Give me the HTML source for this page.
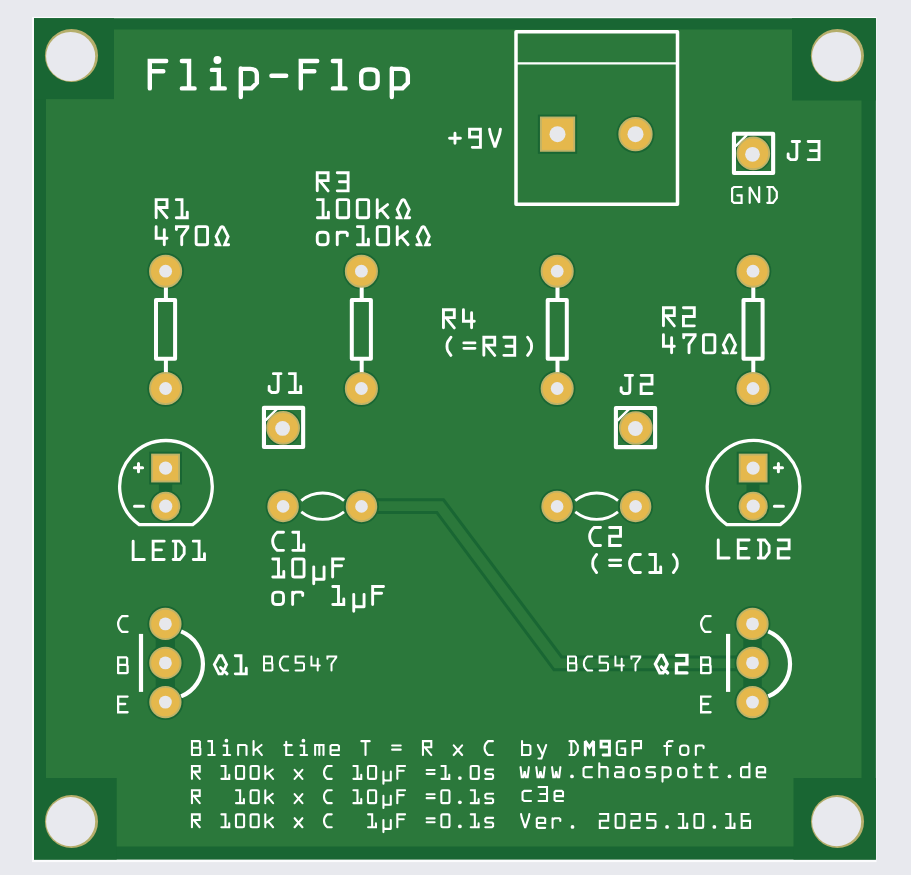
<!DOCTYPE html>
<html><head><meta charset="utf-8"><title>Flip-Flop PCB</title>
<style>html,body{margin:0;padding:0;background:#e8e9ee;font-family:"Liberation Sans",sans-serif;}svg{display:block}</style>
</head><body>
<svg width="911" height="875" viewBox="0 0 911 875">
<rect x="0" y="0" width="911" height="875" fill="#e8e9ee"/>
<rect x="32" y="16.9" width="844.5" height="845.2" fill="#fbfbfd"/>
<rect x="34" y="18.2" width="841.9" height="841.4" fill="#196633"/>
<rect x="46" y="29.5" width="815.5" height="817" fill="#2b783b"/>
<rect x="34" y="18.2" width="80" height="80.9" fill="#196633"/>
<rect x="792" y="18.2" width="83.9" height="82.3" fill="#196633"/>
<rect x="34" y="778" width="82.7" height="81.6" fill="#196633"/>
<rect x="793.5" y="778" width="82.4" height="81.6" fill="#196633"/>
<circle cx="71.50" cy="55.50" r="26.55" fill="#b5ae6b"/>
<circle cx="70.65" cy="56.50" r="24.55" fill="#e8e9ee"/>
<circle cx="837.40" cy="55.50" r="26.55" fill="#b5ae6b"/>
<circle cx="836.55" cy="56.50" r="24.55" fill="#e8e9ee"/>
<circle cx="71.50" cy="821.50" r="26.55" fill="#b5ae6b"/>
<circle cx="70.65" cy="821.65" r="24.55" fill="#e8e9ee"/>
<circle cx="837.50" cy="821.50" r="26.55" fill="#b5ae6b"/>
<circle cx="836.65" cy="821.65" r="24.55" fill="#e8e9ee"/>
<path d="M361,499.8 L443.5,499.8 L561.7,657 L752,657" fill="none" stroke="#196633" stroke-width="3"/>
<path d="M361,512.4 L436.8,512.4 L554,669.8 L752,669.8" fill="none" stroke="#196633" stroke-width="3"/>
<circle cx="165.6" cy="271.2" r="18.3" fill="#196633"/>
<circle cx="165.6" cy="388.5" r="18.3" fill="#196633"/>
<circle cx="361.4" cy="271.2" r="18.3" fill="#196633"/>
<circle cx="361.4" cy="388.5" r="18.3" fill="#196633"/>
<circle cx="557.2" cy="271.2" r="18.3" fill="#196633"/>
<circle cx="557.2" cy="388.5" r="18.3" fill="#196633"/>
<circle cx="753.0" cy="271.2" r="18.3" fill="#196633"/>
<circle cx="753.0" cy="388.5" r="18.3" fill="#196633"/>
<rect x="537.9" y="114.6" width="39.2" height="39.2" fill="#196633"/>
<circle cx="635.5" cy="134.2" r="19.0" fill="#196633"/>
<circle cx="283.1" cy="427.9" r="18.3" fill="#196633"/>
<circle cx="635.8" cy="428.0" r="18.3" fill="#196633"/>
<circle cx="753.3" cy="153.4" r="18.3" fill="#196633"/>
<rect x="149.2" y="451.7" width="32.8" height="32.8" fill="#196633"/>
<circle cx="165.7" cy="506.2" r="16.3" fill="#196633"/>
<rect x="736.7" y="451.7" width="32.8" height="32.8" fill="#196633"/>
<circle cx="753.2" cy="506.2" r="16.3" fill="#196633"/>
<circle cx="283.1" cy="506.4" r="17.5" fill="#196633"/>
<circle cx="361.5" cy="506.4" r="17.5" fill="#196633"/>
<circle cx="557.1" cy="506.4" r="17.5" fill="#196633"/>
<circle cx="635.6" cy="506.4" r="17.5" fill="#196633"/>
<circle cx="165.4" cy="623.9" r="18.0" fill="#196633"/>
<circle cx="165.4" cy="662.9" r="18.0" fill="#196633"/>
<circle cx="165.4" cy="702.1" r="18.0" fill="#196633"/>
<circle cx="752.5" cy="623.9" r="18.0" fill="#196633"/>
<circle cx="752.5" cy="662.9" r="18.0" fill="#196633"/>
<circle cx="752.5" cy="702.1" r="18.0" fill="#196633"/>
<rect x="158.9" y="480" width="13.3" height="20" fill="#196633"/>
<rect x="746.5" y="480" width="13" height="20" fill="#196633"/>
<rect x="155.7" y="624" width="19.3" height="78" fill="#196633"/>
<rect x="743.3" y="624" width="18.5" height="78" fill="#196633"/>
<path d="M165.9,285 L165.9,299 M165.9,360 L165.9,375" stroke="#fff" stroke-width="4" fill="none"/>
<rect x="156.0" y="299.9" width="19.1" height="58.9" fill="none" stroke="#fff" stroke-width="4" stroke-linejoin="round"/>
<path d="M361.7,285 L361.7,299 M361.7,360 L361.7,375" stroke="#fff" stroke-width="4" fill="none"/>
<rect x="351.8" y="299.9" width="19.1" height="58.9" fill="none" stroke="#fff" stroke-width="4" stroke-linejoin="round"/>
<path d="M557.5,285 L557.5,299 M557.5,360 L557.5,375" stroke="#fff" stroke-width="4" fill="none"/>
<rect x="547.7" y="299.9" width="19.1" height="58.9" fill="none" stroke="#fff" stroke-width="4" stroke-linejoin="round"/>
<path d="M753.3,285 L753.3,299 M753.3,360 L753.3,375" stroke="#fff" stroke-width="4" fill="none"/>
<rect x="743.5" y="299.9" width="19.1" height="58.9" fill="none" stroke="#fff" stroke-width="4" stroke-linejoin="round"/>
<rect x="516" y="31.8" width="161.5" height="172.5" fill="none" stroke="#fff" stroke-width="3.5" stroke-linejoin="round"/>
<path d="M516,63.4 L677.5,63.4" stroke="#fff" stroke-width="2.2"/>
<path d="M265.6,420.4 L277.1,408.9" stroke="#fff" stroke-width="2.4"/>
<rect x="263.95" y="407.85" width="39.2" height="39.2" fill="none" stroke="#fff" stroke-width="4.1" stroke-linejoin="round"/>
<path d="M617.5,420.6 L629.0,409.1" stroke="#fff" stroke-width="2.4"/>
<rect x="615.90" y="407.95" width="39.2" height="39.2" fill="none" stroke="#fff" stroke-width="4.1" stroke-linejoin="round"/>
<path d="M735.5,146.3 L747.0,134.8" stroke="#fff" stroke-width="2.4"/>
<rect x="733.95" y="133.75" width="39.2" height="39.2" fill="none" stroke="#fff" stroke-width="4.1" stroke-linejoin="round"/>
<path d="M139.2,524.6 A46.3,46.3 0 1 1 192.7,524.6 Z" fill="none" stroke="#fff" stroke-width="3.3" stroke-linejoin="round"/>
<path d="M134.4,467.7 L142.6,467.7 M138.5,463.4 L138.5,471.8 M134.5,506.3 L143.5,506.3" stroke="#fff" stroke-width="3" fill="none" stroke-linecap="round"/>
<path d="M726.8,524.6 A46.3,46.3 0 1 1 780.2,524.6 Z" fill="none" stroke="#fff" stroke-width="3.3" stroke-linejoin="round"/>
<path d="M774.3,467.7 L782.5,467.7 M778.4,463.4 L778.4,471.8 M774.4,506.3 L783.4,506.3" stroke="#fff" stroke-width="3" fill="none" stroke-linecap="round"/>
<path d="M301.3,500.6 A33.8,33.8 0 0 1 344.0,500.6 M301.3,511.8 A33.8,33.8 0 0 0 344.0,511.8" fill="none" stroke="#fff" stroke-width="2.8"/>
<path d="M575.3,500.6 A33.8,33.8 0 0 1 618.0,500.6 M575.3,511.8 A33.8,33.8 0 0 0 618.0,511.8" fill="none" stroke="#fff" stroke-width="2.8"/>
<path d="M141.0,633.9 L141.0,691.9" stroke="#fff" stroke-width="4.2"/>
<path d="M181.1,631.4 A35.1,35.1 0 0 1 181.1,696.4" fill="none" stroke="#fff" stroke-width="4.2"/>
<path d="M728.1,633.9 L728.1,691.9" stroke="#fff" stroke-width="4.2"/>
<path d="M768.2,631.4 A35.1,35.1 0 0 1 768.2,696.4" fill="none" stroke="#fff" stroke-width="4.2"/>
<path d="M 149.80,88.40 L 149.80,61.00 L 166.24,61.00 M 149.80,71.28 L 163.36,71.28 M 181.85,61.00 L 189.04,61.00 L 189.04,88.40 M 181.85,88.40 L 194.59,88.40 M 211.84,69.91 L 218.83,69.91 L 218.83,88.40 M 211.84,88.40 L 224.79,88.40 M 240.81,68.53 L 240.81,96.96 M 240.81,68.88 L 250.26,68.88 Q 256.84,69.22 256.84,74.70 L 256.84,82.92 L 251.50,88.40 L 240.81,88.40 M 271.42,75.73 L 286.22,75.73 M 300.80,88.40 L 300.80,61.00 L 317.24,61.00 M 300.80,71.28 L 314.36,71.28 M 332.85,61.00 L 340.04,61.00 L 340.04,88.40 M 332.85,88.40 L 345.59,88.40 M 367.78,69.56 L 371.06,69.56 Q 377.64,69.56 377.64,75.39 L 377.64,82.58 Q 377.64,88.40 371.06,88.40 L 367.78,88.40 Q 361.20,88.40 361.20,82.58 L 361.20,75.39 Q 361.20,69.56 367.78,69.56 M 391.81,68.53 L 391.81,96.96 M 391.81,68.88 L 401.26,68.88 Q 407.84,69.22 407.84,74.70 L 407.84,82.92 L 402.50,88.40 L 391.81,88.40" fill="none" stroke="#fff" stroke-width="4.40" stroke-linecap="round" stroke-linejoin="miter" stroke-miterlimit="2"/><circle cx="217.39" cy="59.97" r="3.96" fill="#fff"/>
<path d="M 156.15,217.75 L 156.15,199.65 L 167.01,199.65 L 167.01,207.57 L 156.15,207.57 M 158.59,207.57 L 167.01,217.75 M 176.29,199.65 L 181.99,199.65 L 181.99,217.75 M 176.29,217.75 L 187.28,217.75 L 187.28,212.09" fill="none" stroke="#fff" stroke-width="2.90" stroke-linecap="round" stroke-linejoin="miter" stroke-miterlimit="2"/>
<path d="M 156.15,226.65 L 156.15,238.19 L 167.01,238.19 M 164.29,229.59 L 164.29,244.75 M 176.42,229.59 L 176.42,226.65 L 187.82,226.65 L 187.82,227.78 L 181.72,236.38 L 181.72,244.75 M 198.05,226.65 L 205.65,226.65 Q 207.55,226.65 207.55,228.23 L 207.55,243.17 Q 207.55,244.75 205.65,244.75 L 198.05,244.75 Q 196.15,244.75 196.15,243.17 L 196.15,228.23 Q 196.15,226.65 198.05,226.65 M 215.61,244.75 L 219.68,244.75 L 216.15,236.60 L 220.77,227.33 Q 222.12,226.20 223.48,227.33 L 228.10,236.60 L 224.57,244.75 L 228.64,244.75" fill="none" stroke="#fff" stroke-width="2.90" stroke-linecap="round" stroke-linejoin="miter" stroke-miterlimit="2"/>
<path d="M 317.25,190.85 L 317.25,172.75 L 328.11,172.75 L 328.11,180.67 L 317.25,180.67 M 319.69,180.67 L 328.11,190.85 M 337.25,172.75 L 348.11,172.75 L 348.11,190.85 L 337.25,190.85 M 339.42,181.80 L 348.11,181.80" fill="none" stroke="#fff" stroke-width="2.90" stroke-linecap="round" stroke-linejoin="miter" stroke-miterlimit="2"/>
<path d="M 317.39,199.65 L 323.09,199.65 L 323.09,217.75 M 317.39,217.75 L 328.38,217.75 L 328.38,212.09 M 339.15,199.65 L 346.75,199.65 Q 348.65,199.65 348.65,201.23 L 348.65,216.17 Q 348.65,217.75 346.75,217.75 L 339.15,217.75 Q 337.25,217.75 337.25,216.17 L 337.25,201.23 Q 337.25,199.65 339.15,199.65 M 359.15,199.65 L 366.75,199.65 Q 368.65,199.65 368.65,201.23 L 368.65,216.17 Q 368.65,217.75 366.75,217.75 L 359.15,217.75 Q 357.25,217.75 357.25,216.17 L 357.25,201.23 Q 357.25,199.65 359.15,199.65 M 377.25,199.65 L 377.25,217.75 M 377.25,212.55 L 387.57,204.63 M 381.32,209.60 L 388.11,217.75 M 396.71,217.75 L 400.78,217.75 L 397.25,209.60 L 401.87,200.33 Q 403.22,199.20 404.58,200.33 L 409.20,209.60 L 405.67,217.75 L 409.74,217.75" fill="none" stroke="#fff" stroke-width="2.90" stroke-linecap="round" stroke-linejoin="miter" stroke-miterlimit="2"/>
<path d="M 321.59,232.31 L 323.77,232.31 Q 328.11,232.31 328.11,236.15 L 328.11,240.90 Q 328.11,244.75 323.77,244.75 L 321.59,244.75 Q 317.25,244.75 317.25,240.90 L 317.25,236.15 Q 317.25,232.31 321.59,232.31 M 337.25,232.31 L 337.25,244.75 M 337.25,234.57 L 339.96,232.31 L 345.94,232.31 L 347.30,233.44 L 347.30,235.70 M 357.39,226.65 L 363.09,226.65 L 363.09,244.75 M 357.39,244.75 L 368.38,244.75 L 368.38,239.09 M 379.15,226.65 L 386.75,226.65 Q 388.65,226.65 388.65,228.23 L 388.65,243.17 Q 388.65,244.75 386.75,244.75 L 379.15,244.75 Q 377.25,244.75 377.25,243.17 L 377.25,228.23 Q 377.25,226.65 379.15,226.65 M 397.25,226.65 L 397.25,244.75 M 397.25,239.55 L 407.57,231.63 M 401.32,236.60 L 408.11,244.75 M 416.71,244.75 L 420.78,244.75 L 417.25,236.60 L 421.87,227.33 Q 423.22,226.20 424.58,227.33 L 429.20,236.60 L 425.67,244.75 L 429.74,244.75" fill="none" stroke="#fff" stroke-width="2.90" stroke-linecap="round" stroke-linejoin="miter" stroke-miterlimit="2"/>
<path d="M 443.45,327.85 L 443.45,309.75 L 454.31,309.75 L 454.31,317.67 L 443.45,317.67 M 445.89,317.67 L 454.31,327.85 M 463.45,309.75 L 463.45,321.29 L 474.31,321.29 M 471.59,312.69 L 471.59,327.85" fill="none" stroke="#fff" stroke-width="2.90" stroke-linecap="round" stroke-linejoin="miter" stroke-miterlimit="2"/>
<path d="M 450.91,337.25 L 447.92,341.55 Q 446.97,343.13 446.97,346.30 Q 446.97,349.47 447.92,351.05 L 450.91,355.35 M 463.85,342.91 L 474.98,342.91 M 463.85,348.34 L 474.98,348.34 M 483.85,355.35 L 483.85,337.25 L 494.71,337.25 L 494.71,345.17 L 483.85,345.17 M 486.29,345.17 L 494.71,355.35 M 503.85,337.25 L 514.71,337.25 L 514.71,355.35 L 503.85,355.35 M 506.02,346.30 L 514.71,346.30 M 527.65,337.25 L 530.64,341.55 Q 531.59,343.13 531.59,346.30 Q 531.59,349.47 530.64,351.05 L 527.65,355.35" fill="none" stroke="#fff" stroke-width="2.90" stroke-linecap="round" stroke-linejoin="miter" stroke-miterlimit="2"/>
<path d="M 663.45,325.85 L 663.45,307.75 L 674.31,307.75 L 674.31,315.67 L 663.45,315.67 M 665.89,315.67 L 674.31,325.85 M 683.45,307.75 L 694.31,307.75 L 694.31,316.57 L 683.45,316.57 L 683.45,325.85 L 694.31,325.85" fill="none" stroke="#fff" stroke-width="2.90" stroke-linecap="round" stroke-linejoin="miter" stroke-miterlimit="2"/>
<path d="M 663.45,334.75 L 663.45,346.29 L 674.31,346.29 M 671.60,337.69 L 671.60,352.85 M 683.72,337.69 L 683.72,334.75 L 695.12,334.75 L 695.12,335.88 L 689.02,344.48 L 689.02,352.85 M 705.35,334.75 L 712.95,334.75 Q 714.85,334.75 714.85,336.33 L 714.85,351.27 Q 714.85,352.85 712.95,352.85 L 705.35,352.85 Q 703.45,352.85 703.45,351.27 L 703.45,336.33 Q 703.45,334.75 705.35,334.75 M 722.91,352.85 L 726.98,352.85 L 723.45,344.70 L 728.07,335.43 Q 729.42,334.30 730.78,335.43 L 735.40,344.70 L 731.87,352.85 L 735.94,352.85" fill="none" stroke="#fff" stroke-width="2.90" stroke-linecap="round" stroke-linejoin="miter" stroke-miterlimit="2"/>
<path d="M 449.55,138.30 L 460.41,138.30 M 454.98,133.32 L 454.98,143.28 M 480.41,136.94 L 469.55,136.94 L 469.55,129.25 L 480.41,129.25 L 480.41,147.35 L 472.26,147.35 M 489.55,129.25 L 490.36,133.78 L 494.98,147.35 L 499.60,133.78 L 500.41,129.25" fill="none" stroke="#fff" stroke-width="2.90" stroke-linecap="round" stroke-linejoin="miter" stroke-miterlimit="2"/>
<path d="M 792.22,141.55 L 799.55,141.55 M 796.84,141.55 L 796.84,156.93 Q 796.84,159.65 794.12,159.65 L 790.59,159.65 L 788.15,157.61 L 788.15,153.99 M 808.15,141.55 L 819.01,141.55 L 819.01,159.65 L 808.15,159.65 M 810.32,150.60 L 819.01,150.60" fill="none" stroke="#fff" stroke-width="2.90" stroke-linecap="round" stroke-linejoin="miter" stroke-miterlimit="2"/>
<path d="M 273.38,373.65 L 280.99,373.65 M 278.17,373.65 L 278.17,389.63 Q 278.17,392.45 275.35,392.45 L 271.69,392.45 L 269.15,390.33 L 269.15,386.57 M 289.29,373.65 L 295.21,373.65 L 295.21,392.45 M 289.29,392.45 L 300.71,392.45 L 300.71,386.57" fill="none" stroke="#fff" stroke-width="2.90" stroke-linecap="round" stroke-linejoin="miter" stroke-miterlimit="2"/>
<path d="M 625.22,375.35 L 632.55,375.35 M 629.84,375.35 L 629.84,390.73 Q 629.84,393.45 627.12,393.45 L 623.59,393.45 L 621.15,391.41 L 621.15,387.79 M 641.15,375.35 L 652.01,375.35 L 652.01,384.17 L 641.15,384.17 L 641.15,393.45 L 652.01,393.45" fill="none" stroke="#fff" stroke-width="2.90" stroke-linecap="round" stroke-linejoin="miter" stroke-miterlimit="2"/>
<path d="M 133.15,541.15 L 133.15,559.55 L 144.19,559.55 M 164.19,541.15 L 153.15,541.15 L 153.15,559.55 L 164.19,559.55 M 153.15,549.89 L 161.43,549.89 M 173.15,541.15 L 179.77,541.15 L 184.19,546.90 L 184.19,553.80 L 179.77,559.55 L 173.15,559.55 M 175.63,541.15 L 175.63,559.55 M 193.29,541.15 L 199.08,541.15 L 199.08,559.55 M 193.29,559.55 L 204.47,559.55 L 204.47,553.80" fill="none" stroke="#fff" stroke-width="2.90" stroke-linecap="round" stroke-linejoin="miter" stroke-miterlimit="2"/>
<path d="M 718.25,539.95 L 718.25,558.05 L 729.11,558.05 M 749.11,539.95 L 738.25,539.95 L 738.25,558.05 L 749.11,558.05 M 738.25,548.55 L 746.39,548.55 M 758.25,539.95 L 764.77,539.95 L 769.11,545.61 L 769.11,552.39 L 764.77,558.05 L 758.25,558.05 M 760.69,539.95 L 760.69,558.05 M 778.25,539.95 L 789.11,539.95 L 789.11,548.77 L 778.25,548.77 L 778.25,558.05 L 789.11,558.05" fill="none" stroke="#fff" stroke-width="2.90" stroke-linecap="round" stroke-linejoin="miter" stroke-miterlimit="2"/>
<path d="M 283.51,532.25 L 277.27,532.25 C 275.09,534.06 272.65,537.68 272.65,541.30 C 272.65,544.92 275.09,548.54 277.27,550.35 L 283.51,550.35 M 292.79,532.25 L 298.49,532.25 L 298.49,550.35 M 292.79,550.35 L 303.78,550.35 L 303.78,544.69" fill="none" stroke="#fff" stroke-width="2.90" stroke-linecap="round" stroke-linejoin="miter" stroke-miterlimit="2"/>
<path d="M 272.79,558.95 L 278.49,558.95 L 278.49,577.05 M 272.79,577.05 L 283.78,577.05 L 283.78,571.39 M 294.55,558.95 L 302.15,558.95 Q 304.05,558.95 304.05,560.53 L 304.05,575.47 Q 304.05,577.05 302.15,577.05 L 294.55,577.05 Q 292.65,577.05 292.65,575.47 L 292.65,560.53 Q 292.65,558.95 294.55,558.95 M 313.74,566.87 L 313.74,583.84 M 313.74,577.50 L 315.91,579.31 L 324.05,579.31 M 324.05,566.87 L 324.05,579.31 M 332.65,577.05 L 332.65,558.95 L 343.51,558.95 M 332.65,565.74 L 341.61,565.74" fill="none" stroke="#fff" stroke-width="2.90" stroke-linecap="round" stroke-linejoin="miter" stroke-miterlimit="2"/>
<path d="M 276.99,592.11 L 279.17,592.11 Q 283.51,592.11 283.51,595.95 L 283.51,600.70 Q 283.51,604.55 279.17,604.55 L 276.99,604.55 Q 272.65,604.55 272.65,600.70 L 272.65,595.95 Q 272.65,592.11 276.99,592.11 M 292.65,592.11 L 292.65,604.55 M 292.65,594.37 L 295.36,592.11 L 301.34,592.11 L 302.70,593.24 L 302.70,595.50 M 332.79,586.45 L 338.49,586.45 L 338.49,604.55 M 332.79,604.55 L 343.78,604.55 L 343.78,598.89 M 353.74,594.37 L 353.74,611.34 M 353.74,605.00 L 355.91,606.81 L 364.05,606.81 M 364.05,594.37 L 364.05,606.81 M 372.65,604.55 L 372.65,586.45 L 383.51,586.45 M 372.65,593.24 L 381.61,593.24" fill="none" stroke="#fff" stroke-width="2.90" stroke-linecap="round" stroke-linejoin="miter" stroke-miterlimit="2"/>
<path d="M 600.51,527.45 L 594.27,527.45 C 592.09,529.26 589.65,532.88 589.65,536.50 C 589.65,540.12 592.09,543.74 594.27,545.55 L 600.51,545.55 M 609.65,527.45 L 620.51,527.45 L 620.51,536.27 L 609.65,536.27 L 609.65,545.55 L 620.51,545.55" fill="none" stroke="#fff" stroke-width="2.90" stroke-linecap="round" stroke-linejoin="miter" stroke-miterlimit="2"/>
<path d="M 596.61,554.45 L 593.62,558.75 Q 592.67,560.33 592.67,563.50 Q 592.67,566.67 593.62,568.25 L 596.61,572.55 M 609.55,560.11 L 620.68,560.11 M 609.55,565.54 L 620.68,565.54 M 640.41,554.45 L 634.17,554.45 C 631.99,556.26 629.55,559.88 629.55,563.50 C 629.55,567.12 631.99,570.74 634.17,572.55 L 640.41,572.55 M 649.69,554.45 L 655.39,554.45 L 655.39,572.55 M 649.69,572.55 L 660.68,572.55 L 660.68,566.89 M 673.35,554.45 L 676.34,558.75 Q 677.29,560.33 677.29,563.50 Q 677.29,566.67 676.34,568.25 L 673.35,572.55" fill="none" stroke="#fff" stroke-width="2.90" stroke-linecap="round" stroke-linejoin="miter" stroke-miterlimit="2"/>
<path d="M 219.22,655.75 L 221.94,655.75 L 226.55,664.57 L 222.21,673.85 L 218.95,673.85 L 214.34,664.57 L 219.22,655.75 M 220.58,667.51 L 227.10,673.85 M 235.29,655.75 L 240.99,655.75 L 240.99,673.85 M 235.29,673.85 L 246.28,673.85 L 246.28,668.19" fill="none" stroke="#fff" stroke-width="2.90" stroke-linecap="round" stroke-linejoin="miter" stroke-miterlimit="2"/>
<path d="M 660.09,655.45 L 662.71,655.45 L 667.17,663.98 L 662.98,672.95 L 659.82,672.95 L 655.36,663.98 L 660.09,655.45 M 661.40,666.82 L 667.70,672.95 M 676.45,655.45 L 686.95,655.45 L 686.95,663.98 L 676.45,663.98 L 676.45,672.95 L 686.95,672.95" fill="none" stroke="#fff" stroke-width="3.30" stroke-linecap="round" stroke-linejoin="miter" stroke-miterlimit="2"/>
<path d="M 264.00,670.50 L 264.00,656.50 L 271.14,656.50 L 271.98,657.20 L 271.98,662.45 L 271.14,663.15 L 272.40,664.20 L 272.40,669.80 L 271.56,670.50 L 264.00,670.50 M 264.00,663.15 L 271.14,663.15 M 288.20,656.50 L 283.37,656.50 C 281.69,657.90 279.80,660.70 279.80,663.50 C 279.80,666.30 281.69,669.10 283.37,670.50 L 288.20,670.50 M 304.00,656.50 L 295.60,656.50 L 295.60,662.80 L 302.74,662.80 L 304.00,663.85 L 304.00,669.45 L 302.74,670.50 L 295.60,670.50 M 311.40,656.50 L 311.40,665.42 L 319.80,665.42 M 317.70,658.77 L 317.70,670.50 M 327.41,658.77 L 327.41,656.50 L 336.23,656.50 L 336.23,657.38 L 331.50,664.02 L 331.50,670.50" fill="none" stroke="#fff" stroke-width="2.00" stroke-linecap="round" stroke-linejoin="miter" stroke-miterlimit="2"/>
<path d="M 568.00,670.50 L 568.00,656.50 L 575.14,656.50 L 575.98,657.20 L 575.98,662.45 L 575.14,663.15 L 576.40,664.20 L 576.40,669.80 L 575.56,670.50 L 568.00,670.50 M 568.00,663.15 L 575.14,663.15 M 592.20,656.50 L 587.37,656.50 C 585.69,657.90 583.80,660.70 583.80,663.50 C 583.80,666.30 585.69,669.10 587.37,670.50 L 592.20,670.50 M 608.00,656.50 L 599.60,656.50 L 599.60,662.80 L 606.74,662.80 L 608.00,663.85 L 608.00,669.45 L 606.74,670.50 L 599.60,670.50 M 615.40,656.50 L 615.40,665.42 L 623.80,665.42 M 621.70,658.77 L 621.70,670.50 M 631.41,658.77 L 631.41,656.50 L 640.23,656.50 L 640.23,657.38 L 635.50,664.02 L 635.50,670.50" fill="none" stroke="#fff" stroke-width="2.00" stroke-linecap="round" stroke-linejoin="miter" stroke-miterlimit="2"/>
<path d="M 741.58,187.00 L 734.00,187.00 L 732.10,188.58 L 732.10,201.22 L 734.00,202.80 L 741.58,202.80 L 741.58,195.29 L 737.31,195.29 M 749.70,202.80 L 749.70,187.00 L 759.18,202.80 L 759.18,187.00 M 767.30,187.00 L 772.99,187.00 L 776.78,191.94 L 776.78,197.86 L 772.99,202.80 L 767.30,202.80 M 769.43,187.00 L 769.43,202.80" fill="none" stroke="#fff" stroke-width="2.20" stroke-linecap="round" stroke-linejoin="miter" stroke-miterlimit="2"/>
<path d="M 127.57,616.15 L 122.15,616.15 C 120.27,617.72 118.15,620.86 118.15,624.00 C 118.15,627.14 120.27,630.28 122.15,631.85 L 127.57,631.85" fill="none" stroke="#fff" stroke-width="2.30" stroke-linecap="round" stroke-linejoin="miter" stroke-miterlimit="2"/>
<path d="M 710.57,616.15 L 705.15,616.15 C 703.27,617.72 701.15,620.86 701.15,624.00 C 701.15,627.14 703.27,630.28 705.15,631.85 L 710.57,631.85" fill="none" stroke="#fff" stroke-width="2.30" stroke-linecap="round" stroke-linejoin="miter" stroke-miterlimit="2"/>
<path d="M 118.15,673.15 L 118.15,657.45 L 126.16,657.45 L 127.10,658.23 L 127.10,664.12 L 126.16,664.91 L 127.57,666.08 L 127.57,672.36 L 126.63,673.15 L 118.15,673.15 M 118.15,664.91 L 126.16,664.91" fill="none" stroke="#fff" stroke-width="2.30" stroke-linecap="round" stroke-linejoin="miter" stroke-miterlimit="2"/>
<path d="M 701.15,673.15 L 701.15,657.45 L 709.16,657.45 L 710.10,658.23 L 710.10,664.12 L 709.16,664.91 L 710.57,666.08 L 710.57,672.36 L 709.63,673.15 L 701.15,673.15 M 701.15,664.91 L 709.16,664.91" fill="none" stroke="#fff" stroke-width="2.30" stroke-linecap="round" stroke-linejoin="miter" stroke-miterlimit="2"/>
<path d="M 127.57,696.55 L 118.15,696.55 L 118.15,712.25 L 127.57,712.25 M 118.15,704.01 L 125.22,704.01" fill="none" stroke="#fff" stroke-width="2.30" stroke-linecap="round" stroke-linejoin="miter" stroke-miterlimit="2"/>
<path d="M 710.57,696.55 L 701.15,696.55 L 701.15,712.25 L 710.57,712.25 M 701.15,704.01 L 708.22,704.01" fill="none" stroke="#fff" stroke-width="2.30" stroke-linecap="round" stroke-linejoin="miter" stroke-miterlimit="2"/>
<path d="M 191.95,755.05 L 191.95,741.15 L 199.04,741.15 L 199.87,741.85 L 199.87,747.06 L 199.04,747.75 L 200.29,748.79 L 200.29,754.36 L 199.46,755.05 L 191.95,755.05 M 191.95,747.75 L 199.04,747.75 M 208.29,741.15 L 211.94,741.15 L 211.94,755.05 M 208.29,755.05 L 214.75,755.05 M 223.58,745.67 L 227.13,745.67 L 227.13,755.05 M 223.58,755.05 L 230.15,755.05 M 238.15,744.97 L 238.15,755.05 M 238.15,744.97 L 245.24,744.97 L 246.49,746.01 L 246.49,755.05 M 253.55,741.15 L 253.55,755.05 M 253.55,751.05 L 261.47,744.97 M 256.68,748.79 L 261.89,755.05 M 286.23,741.85 L 286.23,755.05 L 292.48,755.05 M 284.35,745.15 L 291.65,745.15 M 300.58,745.67 L 304.13,745.67 L 304.13,755.05 M 300.58,755.05 L 307.15,755.05 M 315.15,755.05 L 315.15,744.97 L 323.49,744.97 L 323.49,755.05 M 319.32,744.97 L 319.32,755.05 M 330.55,750.18 L 338.89,750.18 L 338.89,746.01 L 337.64,744.97 L 331.80,744.97 L 330.55,746.01 L 330.55,754.01 L 331.80,755.05 L 338.89,755.05 M 361.35,741.15 L 369.69,741.15 M 365.52,741.15 L 365.52,755.05 M 392.15,745.49 L 400.70,745.49 M 392.15,749.66 L 400.70,749.66 M 422.95,755.05 L 422.95,741.15 L 431.29,741.15 L 431.29,747.23 L 422.95,747.23 M 424.83,747.23 L 431.29,755.05 M 453.75,745.32 L 462.09,755.05 M 462.09,745.32 L 453.75,755.05 M 492.89,741.15 L 488.09,741.15 C 486.43,742.54 484.55,745.32 484.55,748.10 C 484.55,750.88 486.43,753.66 488.09,755.05 L 492.89,755.05" fill="none" stroke="#fff" stroke-width="2.10" stroke-linecap="round" stroke-linejoin="miter" stroke-miterlimit="2"/><circle cx="226.40" cy="740.63" r="1.89" fill="#fff"/><circle cx="303.40" cy="740.63" r="1.89" fill="#fff"/>
<path d="M 191.95,778.85 L 191.95,765.95 L 199.69,765.95 L 199.69,771.59 L 191.95,771.59 M 193.69,771.59 L 199.69,778.85 M 221.39,765.95 L 225.45,765.95 L 225.45,778.85 M 221.39,778.85 L 229.22,778.85 L 229.22,774.82 M 237.31,765.95 L 242.73,765.95 Q 244.09,765.95 244.09,767.08 L 244.09,777.72 Q 244.09,778.85 242.73,778.85 L 237.31,778.85 Q 235.96,778.85 235.96,777.72 L 235.96,767.08 Q 235.96,765.95 237.31,765.95 M 251.98,765.95 L 257.40,765.95 Q 258.76,765.95 258.76,767.08 L 258.76,777.72 Q 258.76,778.85 257.40,778.85 L 251.98,778.85 Q 250.63,778.85 250.63,777.72 L 250.63,767.08 Q 250.63,765.95 251.98,765.95 M 265.30,765.95 L 265.30,778.85 M 265.30,775.14 L 272.65,769.50 M 268.20,773.04 L 273.04,778.85 M 294.64,769.82 L 302.38,778.85 M 302.38,769.82 L 294.64,778.85 M 331.72,765.95 L 327.27,765.95 C 325.72,767.24 323.98,769.82 323.98,772.40 C 323.98,774.98 325.72,777.56 327.27,778.85 L 331.72,778.85 M 353.42,765.95 L 357.48,765.95 L 357.48,778.85 M 353.42,778.85 L 361.25,778.85 L 361.25,774.82 M 369.34,765.95 L 374.76,765.95 Q 376.12,765.95 376.12,767.08 L 376.12,777.72 Q 376.12,778.85 374.76,778.85 L 369.34,778.85 Q 367.99,778.85 367.99,777.72 L 367.99,767.08 Q 367.99,765.95 369.34,765.95 M 383.43,771.59 L 383.43,783.69 M 383.43,779.17 L 384.98,780.46 L 390.79,780.46 M 390.79,771.59 L 390.79,780.46 M 397.33,778.85 L 397.33,765.95 L 405.07,765.95 M 397.33,770.79 L 403.72,770.79 M 426.67,769.98 L 434.60,769.98 M 426.67,773.85 L 434.60,773.85 M 441.44,765.95 L 445.50,765.95 L 445.50,778.85 M 441.44,778.85 L 449.27,778.85 L 449.27,774.82 M 472.03,765.95 L 477.45,765.95 Q 478.81,765.95 478.81,767.08 L 478.81,777.72 Q 478.81,778.85 477.45,778.85 L 472.03,778.85 Q 470.68,778.85 470.68,777.72 L 470.68,767.08 Q 470.68,765.95 472.03,765.95 M 493.09,769.50 L 486.51,769.50 L 485.35,770.46 L 485.35,773.21 L 486.51,774.17 L 491.93,774.17 L 493.09,775.14 L 493.09,777.88 L 491.93,778.85 L 485.35,778.85" fill="none" stroke="#fff" stroke-width="2.10" stroke-linecap="round" stroke-linejoin="miter" stroke-miterlimit="2"/><circle cx="459.88" cy="778.04" r="1.89" fill="#fff"/>
<path d="M 191.95,803.15 L 191.95,790.25 L 199.69,790.25 L 199.69,795.89 L 191.95,795.89 M 193.69,795.89 L 199.69,803.15 M 236.06,790.25 L 240.12,790.25 L 240.12,803.15 M 236.06,803.15 L 243.89,803.15 L 243.89,799.12 M 251.98,790.25 L 257.40,790.25 Q 258.76,790.25 258.76,791.38 L 258.76,802.02 Q 258.76,803.15 257.40,803.15 L 251.98,803.15 Q 250.63,803.15 250.63,802.02 L 250.63,791.38 Q 250.63,790.25 251.98,790.25 M 265.30,790.25 L 265.30,803.15 M 265.30,799.44 L 272.65,793.80 M 268.20,797.35 L 273.04,803.15 M 294.64,794.12 L 302.38,803.15 M 302.38,794.12 L 294.64,803.15 M 331.72,790.25 L 327.27,790.25 C 325.72,791.54 323.98,794.12 323.98,796.70 C 323.98,799.28 325.72,801.86 327.27,803.15 L 331.72,803.15 M 353.42,790.25 L 357.48,790.25 L 357.48,803.15 M 353.42,803.15 L 361.25,803.15 L 361.25,799.12 M 369.34,790.25 L 374.76,790.25 Q 376.12,790.25 376.12,791.38 L 376.12,802.02 Q 376.12,803.15 374.76,803.15 L 369.34,803.15 Q 367.99,803.15 367.99,802.02 L 367.99,791.38 Q 367.99,790.25 369.34,790.25 M 383.43,795.89 L 383.43,807.99 M 383.43,803.47 L 384.98,804.76 L 390.79,804.76 M 390.79,795.89 L 390.79,804.76 M 397.33,803.15 L 397.33,790.25 L 405.07,790.25 M 397.33,795.09 L 403.72,795.09 M 426.67,794.28 L 434.60,794.28 M 426.67,798.15 L 434.60,798.15 M 442.69,790.25 L 448.11,790.25 Q 449.47,790.25 449.47,791.38 L 449.47,802.02 Q 449.47,803.15 448.11,803.15 L 442.69,803.15 Q 441.34,803.15 441.34,802.02 L 441.34,791.38 Q 441.34,790.25 442.69,790.25 M 470.78,790.25 L 474.84,790.25 L 474.84,803.15 M 470.78,803.15 L 478.61,803.15 L 478.61,799.12 M 493.09,793.80 L 486.51,793.80 L 485.35,794.76 L 485.35,797.51 L 486.51,798.47 L 491.93,798.47 L 493.09,799.44 L 493.09,802.18 L 491.93,803.15 L 485.35,803.15" fill="none" stroke="#fff" stroke-width="2.10" stroke-linecap="round" stroke-linejoin="miter" stroke-miterlimit="2"/><circle cx="459.88" cy="802.34" r="1.89" fill="#fff"/>
<path d="M 191.95,827.25 L 191.95,814.35 L 199.69,814.35 L 199.69,819.99 L 191.95,819.99 M 193.69,819.99 L 199.69,827.25 M 221.39,814.35 L 225.45,814.35 L 225.45,827.25 M 221.39,827.25 L 229.22,827.25 L 229.22,823.22 M 237.31,814.35 L 242.73,814.35 Q 244.09,814.35 244.09,815.48 L 244.09,826.12 Q 244.09,827.25 242.73,827.25 L 237.31,827.25 Q 235.96,827.25 235.96,826.12 L 235.96,815.48 Q 235.96,814.35 237.31,814.35 M 251.98,814.35 L 257.40,814.35 Q 258.76,814.35 258.76,815.48 L 258.76,826.12 Q 258.76,827.25 257.40,827.25 L 251.98,827.25 Q 250.63,827.25 250.63,826.12 L 250.63,815.48 Q 250.63,814.35 251.98,814.35 M 265.30,814.35 L 265.30,827.25 M 265.30,823.54 L 272.65,817.90 M 268.20,821.44 L 273.04,827.25 M 294.64,818.22 L 302.38,827.25 M 302.38,818.22 L 294.64,827.25 M 331.72,814.35 L 327.27,814.35 C 325.72,815.64 323.98,818.22 323.98,820.80 C 323.98,823.38 325.72,825.96 327.27,827.25 L 331.72,827.25 M 368.09,814.35 L 372.15,814.35 L 372.15,827.25 M 368.09,827.25 L 375.92,827.25 L 375.92,823.22 M 383.43,819.99 L 383.43,832.09 M 383.43,827.57 L 384.98,828.86 L 390.79,828.86 M 390.79,819.99 L 390.79,828.86 M 397.33,827.25 L 397.33,814.35 L 405.07,814.35 M 397.33,819.19 L 403.72,819.19 M 426.67,818.38 L 434.60,818.38 M 426.67,822.25 L 434.60,822.25 M 442.69,814.35 L 448.11,814.35 Q 449.47,814.35 449.47,815.48 L 449.47,826.12 Q 449.47,827.25 448.11,827.25 L 442.69,827.25 Q 441.34,827.25 441.34,826.12 L 441.34,815.48 Q 441.34,814.35 442.69,814.35 M 470.78,814.35 L 474.84,814.35 L 474.84,827.25 M 470.78,827.25 L 478.61,827.25 L 478.61,823.22 M 493.09,817.90 L 486.51,817.90 L 485.35,818.86 L 485.35,821.61 L 486.51,822.57 L 491.93,822.57 L 493.09,823.54 L 493.09,826.28 L 491.93,827.25 L 485.35,827.25" fill="none" stroke="#fff" stroke-width="2.10" stroke-linecap="round" stroke-linejoin="miter" stroke-miterlimit="2"/><circle cx="459.88" cy="826.44" r="1.89" fill="#fff"/>
<path d="M 522.05,741.15 L 522.05,755.05 L 529.14,755.05 L 530.39,754.01 L 530.39,746.01 L 529.14,744.97 L 522.05,744.97 M 537.85,744.97 L 542.23,754.01 M 546.19,744.97 L 541.39,758.52 L 538.48,758.52 M 569.45,741.15 L 574.45,741.15 L 577.79,745.49 L 577.79,750.71 L 574.45,755.05 L 569.45,755.05 M 571.33,741.15 L 571.33,755.05 M 585.25,755.05 L 585.25,741.15 L 589.42,747.40 L 593.59,741.15 L 593.59,755.05 M 609.39,747.06 L 601.05,747.06 L 601.05,741.15 L 609.39,741.15 L 609.39,755.05 L 603.13,755.05 M 625.19,741.15 L 618.52,741.15 L 616.85,742.54 L 616.85,753.66 L 618.52,755.05 L 625.19,755.05 L 625.19,748.45 L 621.44,748.45 M 632.65,755.05 L 632.65,741.15 L 640.99,741.15 L 640.99,748.10 L 632.65,748.10 M 666.96,755.05 L 666.96,742.71 L 668.84,741.15 L 672.59,741.15 M 664.25,746.01 L 670.92,746.01 M 683.39,745.49 L 685.05,745.49 Q 688.39,745.49 688.39,748.45 L 688.39,752.10 Q 688.39,755.05 685.05,755.05 L 683.39,755.05 Q 680.05,755.05 680.05,752.10 L 680.05,748.45 Q 680.05,745.49 683.39,745.49 M 695.85,745.49 L 695.85,755.05 M 695.85,747.23 L 697.93,745.49 L 702.52,745.49 L 703.56,746.36 L 703.56,748.10" fill="none" stroke="#fff" stroke-width="2.10" stroke-linecap="round" stroke-linejoin="miter" stroke-miterlimit="2"/>
<path d="M 585.25,755.05 L 585.25,741.15 L 589.42,747.41 L 593.59,741.15 L 593.59,755.05 M 609.39,747.06 L 601.05,747.06 L 601.05,741.15 L 609.39,741.15 L 609.39,755.05 L 603.14,755.05" fill="none" stroke="#fff" stroke-width="2.90" stroke-linecap="round" stroke-linejoin="miter" stroke-miterlimit="2"/>
<path d="M 520.55,767.17 L 521.80,777.25 L 523.47,777.25 L 524.72,771.34 L 525.97,777.25 L 527.64,777.25 L 528.89,767.17 M 536.30,767.17 L 537.55,777.25 L 539.22,777.25 L 540.47,771.34 L 541.72,777.25 L 543.39,777.25 L 544.64,767.17 M 552.05,767.17 L 553.30,777.25 L 554.97,777.25 L 556.22,771.34 L 557.47,777.25 L 559.14,777.25 L 560.39,767.17 M 591.89,767.17 L 585.22,767.17 L 583.55,768.56 L 583.55,775.86 L 585.22,777.25 L 591.89,777.25 M 599.30,763.35 L 599.30,777.25 M 599.30,767.17 L 606.39,767.17 L 607.64,768.21 L 607.64,777.25 M 615.88,767.17 L 622.14,767.17 L 623.39,768.21 L 623.39,777.25 L 616.30,777.25 L 615.05,776.21 L 615.05,773.25 L 616.30,772.21 L 623.39,772.21 M 634.14,767.69 L 635.80,767.69 Q 639.14,767.69 639.14,770.65 L 639.14,774.30 Q 639.14,777.25 635.80,777.25 L 634.14,777.25 Q 630.80,777.25 630.80,774.30 L 630.80,770.65 Q 630.80,767.69 634.14,767.69 M 654.89,767.17 L 647.80,767.17 L 646.55,768.21 L 646.55,771.17 L 647.80,772.21 L 653.64,772.21 L 654.89,773.25 L 654.89,776.21 L 653.64,777.25 L 646.55,777.25 M 662.51,767.17 L 662.51,781.59 M 662.51,767.35 L 667.30,767.35 Q 670.64,767.52 670.64,770.30 L 670.64,774.47 L 667.93,777.25 L 662.51,777.25 M 681.39,767.69 L 683.05,767.69 Q 686.39,767.69 686.39,770.65 L 686.39,774.30 Q 686.39,777.25 683.05,777.25 L 681.39,777.25 Q 678.05,777.25 678.05,774.30 L 678.05,770.65 Q 678.05,767.69 681.39,767.69 M 695.68,764.04 L 695.68,777.25 L 701.93,777.25 M 693.80,767.35 L 701.10,767.35 M 711.43,764.04 L 711.43,777.25 L 717.68,777.25 M 709.55,767.35 L 716.85,767.35 M 749.39,763.35 L 749.39,777.25 L 742.30,777.25 L 741.05,776.21 L 741.05,768.21 L 742.30,767.17 L 749.39,767.17 M 756.80,772.38 L 765.14,772.38 L 765.14,768.21 L 763.89,767.17 L 758.05,767.17 L 756.80,768.21 L 756.80,776.21 L 758.05,777.25 L 765.14,777.25" fill="none" stroke="#fff" stroke-width="2.10" stroke-linecap="round" stroke-linejoin="miter" stroke-miterlimit="2"/><circle cx="571.97" cy="776.38" r="1.89" fill="#fff"/><circle cx="729.47" cy="776.38" r="1.89" fill="#fff"/>
<path d="M 531.01,790.83 L 524.24,790.83 L 522.55,792.24 L 522.55,799.64 L 524.24,801.05 L 531.01,801.05 M 538.55,786.95 L 547.01,786.95 L 547.01,801.05 L 538.55,801.05 M 540.24,794.00 L 547.01,794.00 M 554.55,796.11 L 563.01,796.11 L 563.01,791.88 L 561.74,790.83 L 555.82,790.83 L 554.55,791.88 L 554.55,799.99 L 555.82,801.05 L 563.01,801.05" fill="none" stroke="#fff" stroke-width="2.10" stroke-linecap="round" stroke-linejoin="miter" stroke-miterlimit="2"/>
<path d="M 521.05,813.95 L 521.68,817.42 L 525.22,827.85 L 528.76,817.42 L 529.39,813.95 M 536.81,822.98 L 545.15,822.98 L 545.15,818.81 L 543.90,817.77 L 538.06,817.77 L 536.81,818.81 L 536.81,826.81 L 538.06,827.85 L 545.15,827.85 M 552.57,818.29 L 552.57,827.85 M 552.57,820.03 L 554.65,818.29 L 559.24,818.29 L 560.28,819.16 L 560.28,820.90 M 599.85,813.95 L 608.19,813.95 L 608.19,820.73 L 599.85,820.73 L 599.85,827.85 L 608.19,827.85 M 617.07,813.95 L 622.91,813.95 Q 624.37,813.95 624.37,815.17 L 624.37,826.63 Q 624.37,827.85 622.91,827.85 L 617.07,827.85 Q 615.61,827.85 615.61,826.63 L 615.61,815.17 Q 615.61,813.95 617.07,813.95 M 631.37,813.95 L 639.71,813.95 L 639.71,820.73 L 631.37,820.73 L 631.37,827.85 L 639.71,827.85 M 655.47,813.95 L 647.13,813.95 L 647.13,820.20 L 654.22,820.20 L 655.47,821.25 L 655.47,826.81 L 654.22,827.85 L 647.13,827.85 M 678.75,813.95 L 683.13,813.95 L 683.13,827.85 M 678.75,827.85 L 687.20,827.85 L 687.20,823.51 M 695.87,813.95 L 701.71,813.95 Q 703.17,813.95 703.17,815.17 L 703.17,826.63 Q 703.17,827.85 701.71,827.85 L 695.87,827.85 Q 694.41,827.85 694.41,826.63 L 694.41,815.17 Q 694.41,813.95 695.87,813.95 M 726.03,813.95 L 730.41,813.95 L 730.41,827.85 M 726.03,827.85 L 734.48,827.85 L 734.48,823.51 M 748.78,813.95 L 741.69,813.95 L 741.69,827.85 L 750.03,827.85 L 750.03,820.90 L 741.69,820.90" fill="none" stroke="#fff" stroke-width="2.10" stroke-linecap="round" stroke-linejoin="miter" stroke-miterlimit="2"/><circle cx="572.50" cy="826.98" r="1.89" fill="#fff"/><circle cx="667.06" cy="826.98" r="1.89" fill="#fff"/><circle cx="714.34" cy="826.98" r="1.89" fill="#fff"/>
<circle cx="165.6" cy="271.2" r="15.6" fill="#e5b84c" stroke="#c0b368" stroke-width="1.9"/>
<circle cx="165.6" cy="271.2" r="6.4" fill="#e7e8ec"/>
<circle cx="165.6" cy="388.5" r="15.6" fill="#e5b84c" stroke="#c0b368" stroke-width="1.9"/>
<circle cx="165.6" cy="388.5" r="6.4" fill="#e7e8ec"/>
<circle cx="361.4" cy="271.2" r="15.6" fill="#e5b84c" stroke="#c0b368" stroke-width="1.9"/>
<circle cx="361.4" cy="271.2" r="6.4" fill="#e7e8ec"/>
<circle cx="361.4" cy="388.5" r="15.6" fill="#e5b84c" stroke="#c0b368" stroke-width="1.9"/>
<circle cx="361.4" cy="388.5" r="6.4" fill="#e7e8ec"/>
<circle cx="557.2" cy="271.2" r="15.6" fill="#e5b84c" stroke="#c0b368" stroke-width="1.9"/>
<circle cx="557.2" cy="271.2" r="6.4" fill="#e7e8ec"/>
<circle cx="557.2" cy="388.5" r="15.6" fill="#e5b84c" stroke="#c0b368" stroke-width="1.9"/>
<circle cx="557.2" cy="388.5" r="6.4" fill="#e7e8ec"/>
<circle cx="753.0" cy="271.2" r="15.6" fill="#e5b84c" stroke="#c0b368" stroke-width="1.9"/>
<circle cx="753.0" cy="271.2" r="6.4" fill="#e7e8ec"/>
<circle cx="753.0" cy="388.5" r="15.6" fill="#e5b84c" stroke="#c0b368" stroke-width="1.9"/>
<circle cx="753.0" cy="388.5" r="6.4" fill="#e7e8ec"/>
<rect x="540.9" y="117.5" width="33.3" height="33.3" fill="#e5b84c" stroke="#c0b368" stroke-width="1.9"/>
<circle cx="557.5" cy="134.2" r="8.0" fill="#e7e8ec"/>
<circle cx="635.5" cy="134.2" r="16.2" fill="#e5b84c" stroke="#c0b368" stroke-width="1.9"/>
<circle cx="635.5" cy="134.2" r="8.0" fill="#e7e8ec"/>
<circle cx="283.1" cy="427.9" r="15.9" fill="#e5b84c" stroke="#c0b368" stroke-width="1.9"/>
<circle cx="282.6" cy="428.4" r="7.4" fill="#e7e8ec"/>
<circle cx="635.8" cy="428.0" r="15.9" fill="#e5b84c" stroke="#c0b368" stroke-width="1.9"/>
<circle cx="635.4" cy="428.5" r="7.4" fill="#e7e8ec"/>
<circle cx="753.3" cy="153.4" r="15.9" fill="#e5b84c" stroke="#c0b368" stroke-width="1.9"/>
<circle cx="752.5" cy="154.3" r="7.4" fill="#e7e8ec"/>
<rect x="152.1" y="454.6" width="26.9" height="26.9" fill="#e5b84c" stroke="#c0b368" stroke-width="1.9"/>
<circle cx="165.6" cy="468.1" r="6.6" fill="#e7e8ec"/>
<circle cx="165.7" cy="506.2" r="13.6" fill="#e5b84c" stroke="#c0b368" stroke-width="1.9"/>
<circle cx="165.7" cy="506.2" r="6.6" fill="#e7e8ec"/>
<rect x="739.7" y="454.6" width="26.9" height="26.9" fill="#e5b84c" stroke="#c0b368" stroke-width="1.9"/>
<circle cx="753.1" cy="468.1" r="6.6" fill="#e7e8ec"/>
<circle cx="753.2" cy="506.2" r="13.6" fill="#e5b84c" stroke="#c0b368" stroke-width="1.9"/>
<circle cx="753.2" cy="506.2" r="6.6" fill="#e7e8ec"/>
<circle cx="283.1" cy="506.4" r="14.8" fill="#e5b84c" stroke="#c0b368" stroke-width="1.9"/>
<circle cx="283.1" cy="506.4" r="6.3" fill="#e7e8ec"/>
<circle cx="361.5" cy="506.4" r="14.8" fill="#e5b84c" stroke="#c0b368" stroke-width="1.9"/>
<circle cx="361.5" cy="506.4" r="6.3" fill="#e7e8ec"/>
<circle cx="557.1" cy="506.4" r="14.8" fill="#e5b84c" stroke="#c0b368" stroke-width="1.9"/>
<circle cx="557.1" cy="506.4" r="6.3" fill="#e7e8ec"/>
<circle cx="635.6" cy="506.4" r="14.8" fill="#e5b84c" stroke="#c0b368" stroke-width="1.9"/>
<circle cx="635.6" cy="506.4" r="6.3" fill="#e7e8ec"/>
<circle cx="165.4" cy="623.9" r="15.2" fill="#e5b84c" stroke="#c0b368" stroke-width="1.9"/>
<circle cx="165.4" cy="623.9" r="6.4" fill="#e7e8ec"/>
<circle cx="165.4" cy="662.9" r="15.2" fill="#e5b84c" stroke="#c0b368" stroke-width="1.9"/>
<circle cx="165.4" cy="662.9" r="6.4" fill="#e7e8ec"/>
<circle cx="165.4" cy="702.1" r="15.2" fill="#e5b84c" stroke="#c0b368" stroke-width="1.9"/>
<circle cx="165.4" cy="702.1" r="6.4" fill="#e7e8ec"/>
<circle cx="752.5" cy="623.9" r="15.2" fill="#e5b84c" stroke="#c0b368" stroke-width="1.9"/>
<circle cx="752.5" cy="623.9" r="6.4" fill="#e7e8ec"/>
<circle cx="752.5" cy="662.9" r="15.2" fill="#e5b84c" stroke="#c0b368" stroke-width="1.9"/>
<circle cx="752.5" cy="662.9" r="6.4" fill="#e7e8ec"/>
<circle cx="752.5" cy="702.1" r="15.2" fill="#e5b84c" stroke="#c0b368" stroke-width="1.9"/>
<circle cx="752.5" cy="702.1" r="6.4" fill="#e7e8ec"/>
</svg>
</body></html>
